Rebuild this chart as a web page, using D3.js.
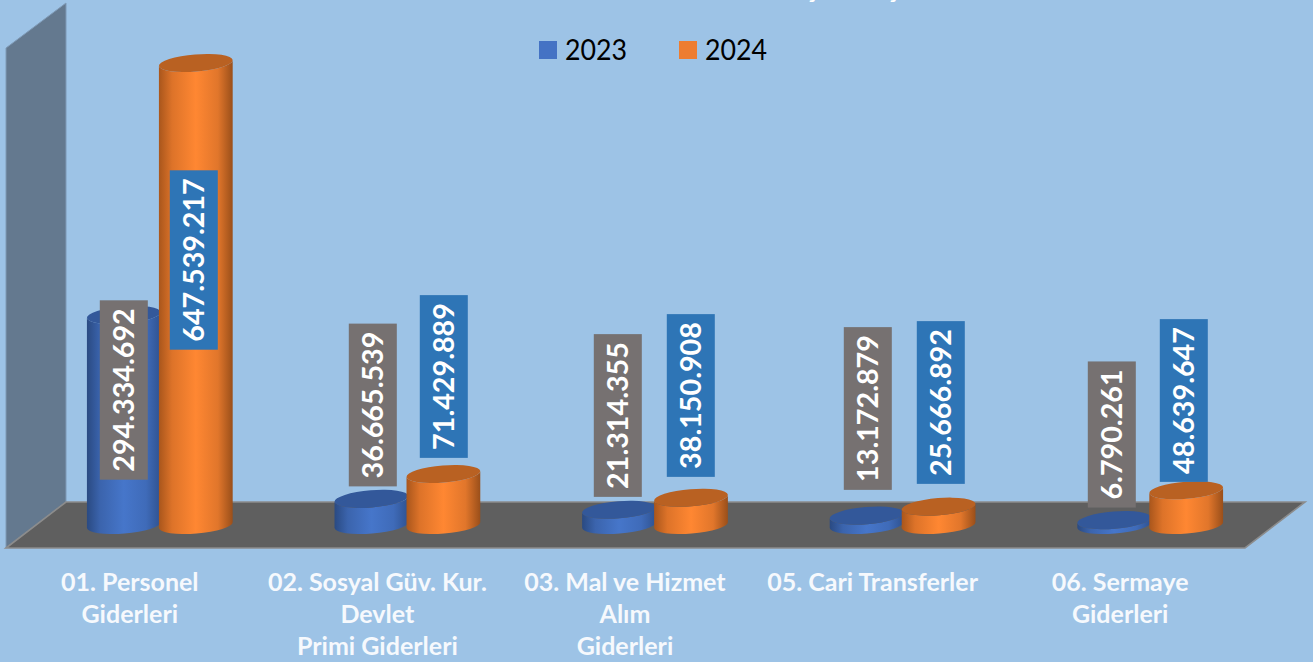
<!DOCTYPE html>
<html><head><meta charset="utf-8">
<script src="https://cdn.jsdelivr.net/npm/d3@7"></script>
<style>html,body{margin:0;padding:0;background:#9dc3e6;overflow:hidden}svg{display:block}</style>
</head><body><div id="c"></div>
<script>
const categories = [
  ["01. Personel","Giderleri"],
  ["02. Sosyal Güv. Kur.","Devlet","Primi Giderleri"],
  ["03. Mal ve Hizmet","Alım","Giderleri"],
  ["05. Cari Transferler"],
  ["06. Sermaye","Giderleri"]
];
const seriesNames = ["2023","2024"];
const values2023 = [294334692,36665539,21314355,13172879,6790261];
const values2024 = [647539217,71429889,38150908,25666892,48639647];
const labelMidY2023 = [390,405,415.5,408.5,434.5];
const labelMidY2024 = [260,376.5,395.5,402.5,400.5];
const labelDx2023 = [-36,-34.6,-37.2,-34.8,-38.4];
const labelDx2024 = [34,36.4,35.8,38.2,33.6];

const W=1313,H=662;
const svg=d3.select("#c").append("svg").attr("width",W).attr("height",H);
const defs=svg.append("defs");
function grad(id,edgeL,mid,edgeR){
  const g=defs.append("linearGradient").attr("id",id).attr("x1",0).attr("x2",1).attr("y1",0).attr("y2",0);
  [[0,edgeL],[.18,d3.interpolateRgb(edgeL,mid)(.6)],[.5,mid],[.8,d3.interpolateRgb(edgeR,mid)(.7)],[1,edgeR]]
    .forEach(s=>g.append("stop").attr("offset",s[0]).attr("stop-color",s[1]));
}
grad("gb","#2a4a82","#4676ca","#2f5290");
grad("go","#a9561c","#ff8732","#9a4f1a");

svg.append("rect").attr("width",W).attr("height",H).attr("fill","#9dc3e6");

const x=d3.scaleBand().domain(d3.range(categories.length)).range([36,1274]);
const y=d3.scaleLinear().domain([0,647539217]).range([525,63]);
const xc=i=>x(i)+x.bandwidth()/2;
const line=d3.line();

// wall and floor
const wall=[[6,48],[66,3],[66,502],[6,548]];
const floor=[[6,548],[66,502],[1305,502],[1245,548]];
svg.append("path").attr("d",line(wall)+"Z").attr("fill","#64798f").attr("stroke","#7f9ab6").attr("stroke-width",1);
svg.append("path").attr("d",line(floor)+"Z").attr("fill","#5f5f5f").attr("stroke","#8c8c8c").attr("stroke-width",1.6);

// title, almost entirely cut off by the top edge of the frame
[812,893].forEach(px=>svg.append("text").attr("x",px).attr("y",-2).attr("text-anchor","middle")
  .attr("font-family","Lato").attr("font-weight",700).attr("font-size",26).attr("fill","#fff").text("ş"));

const RX=37, RY=8.6, ROT=-4.6;
const tx=RX*Math.cos(ROT*Math.PI/180), ty=RX*Math.sin(-ROT*Math.PI/180);
function cyl(cx,v,fill,top){
  const y0=y(0), y1=y(v);
  const g=svg.append("g");
  g.append("path").attr("fill",`url(#${fill})`)
   .attr("d",`M${cx-tx},${y1+ty}L${cx-tx},${y0+ty}A${RX},${RY} ${ROT} 0 0 ${cx+tx},${y0-ty}L${cx+tx},${y1-ty}A${RX},${RY} ${ROT} 0 1 ${cx-tx},${y1+ty}Z`);
  g.append("ellipse").attr("cx",cx).attr("cy",y1).attr("rx",RX).attr("ry",RY)
   .attr("transform",`rotate(${ROT} ${cx} ${y1})`).attr("fill",top);
}
const OFF=36;
categories.forEach((c,i)=>{
  cyl(xc(i)-OFF,values2023[i],"gb","#33589a");
  cyl(xc(i)+OFF,values2024[i],"go","#b96122");
});

const fmt=v=>d3.format(",")(v).replace(/,/g,".");
function label(cx,midY,v,bg){
  const g=svg.append("g").attr("transform",`translate(${cx},${midY}) rotate(-90)`);
  const r=g.append("rect").attr("fill",bg);
  const t=g.append("text").attr("text-anchor","middle").attr("y",10.3)
    .attr("font-family","Lato").attr("font-weight",700).attr("font-size",28.7).attr("fill","#fff").text(fmt(v));
  const w=t.node().getComputedTextLength()+16;
  r.attr("x",-w/2).attr("y",-24).attr("width",w).attr("height",48);
}
categories.forEach((c,i)=>{
  label(xc(i)+labelDx2023[i],labelMidY2023[i],values2023[i],"#767171");
  label(xc(i)+labelDx2024[i],labelMidY2024[i],values2024[i],"#2e75b6");
});

// category labels
const CAT_SHIFT=-30;
const catG=svg.append("g").attr("font-family","Lato").attr("font-weight",700).attr("font-size",25).attr("fill","#f6f9fd").attr("text-anchor","middle");
categories.forEach((c,i)=>{
  c.forEach((s,j)=>catG.append("text").attr("x",xc(i)+CAT_SHIFT).attr("y",591+j*32).text(s));
});

// legend
const color=d3.scaleOrdinal().domain(seriesNames).range(["#4472c4","#ed7d31"]);
const lx=d3.scalePoint().domain(seriesNames).range([539,679]);
seriesNames.forEach(s=>{
  svg.append("rect").attr("x",lx(s)).attr("y",41).attr("width",18).attr("height",18).attr("fill",color(s));
  svg.append("text").attr("x",lx(s)+26).attr("y",59.5).attr("font-family","Lato").attr("font-size",29)
    .attr("textLength",62).attr("lengthAdjust","spacingAndGlyphs").attr("fill","#000").text(s);
});
</script></body></html>
